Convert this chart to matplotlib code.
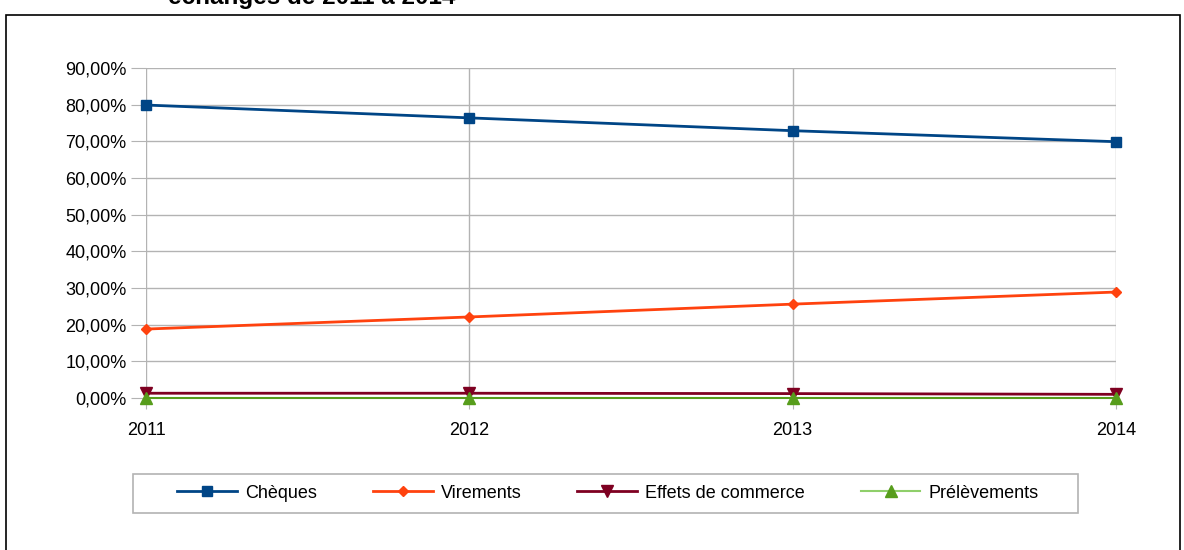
import matplotlib
matplotlib.use("Agg")
import matplotlib.pyplot as plt
from matplotlib.ticker import FuncFormatter
from matplotlib.patches import Rectangle
from matplotlib.lines import Line2D

years = ["2011", "2012", "2013", "2014"]
cheques = [79.9, 76.4, 72.9, 69.9]
virements = [18.8, 22.1, 25.6, 28.9]
effets = [1.3, 1.3, 1.2, 1.0]
prelevements = [0.05, 0.05, 0.05, 0.05]
series_names = ["Chèques", "Virements", "Effets de commerce", "Prélèvements"]
title_text = "échanges de 2011 à 2014"

plt.rcParams['font.family'] = ['Liberation Sans', 'DejaVu Sans']

W, H = 1184, 550
fig = plt.figure(figsize=(W/100, H/100), dpi=100)
# outer frame
fig.patches.append(Rectangle((6/W, -0.05), (1180-6)/W, 1.05 - 15/H, transform=fig.transFigure,
                             fill=False, edgecolor='black', linewidth=1.2))
fig.text(168/W, 1 - 4/H, title_text, fontsize=17.5, fontweight='bold', ha='left', va='baseline')

ax = fig.add_axes([146/W, 1-398/H, (1116-146)/W, (398-68)/H])
x = list(range(len(years)))
styles = [
    dict(color='#004586', lw=2, marker='s', ms=7),
    dict(color='#ff420e', lw=2, marker='D', ms=5),
    dict(color='#7e0021', lw=2, marker='v', ms=8),
    dict(color='#579d1c', lw=1.5, marker='^', ms=8),
]
for vals, st, name in zip([cheques, virements, effets, prelevements], styles, series_names):
    ax.plot(x, vals, label=name, clip_on=False, **st)

ax.set_xlim(0, 3)
ax.set_ylim(0, 90)
ax.set_yticks(range(0, 91, 10))
ax.yaxis.set_major_formatter(FuncFormatter(lambda v, p: f"{v:.2f}".replace('.', ',') + "%"))
ax.set_xticks(x)
ax.set_xticklabels(years)
ax.grid(True, color='#b3b3b3', lw=1)
ax.set_axisbelow(True)
for s in ax.spines.values():
    s.set_visible(False)
ax.tick_params(axis='y', length=11, color='#b3b3b3', labelsize=13, pad=3)
ax.tick_params(axis='x', length=8, color='#b3b3b3', labelsize=13, pad=9)

# legend
handles = []
for st, name in zip(styles, series_names):
    st2 = dict(st)
    if name == series_names[3]:
        st2['color'] = '#8fcf6a'
        st2['markerfacecolor'] = '#579d1c'
        st2['markeredgecolor'] = '#579d1c'
    handles.append(Line2D([], [], label=name, **st2))
leg = fig.legend(handles=handles, loc='center', bbox_to_anchor=(608/W, 1-493/H), ncol=4, fontsize=13,
                 frameon=False, handlelength=3.3, handletextpad=0.45, columnspacing=3.1)
fig.patches.append(Rectangle((133/W, 1-513/H), (1078-133)/W, (513-474)/H, transform=fig.transFigure,
                             fill=False, edgecolor='#b3b3b3', linewidth=1.2))

fig.savefig("out.png", dpi=100)
